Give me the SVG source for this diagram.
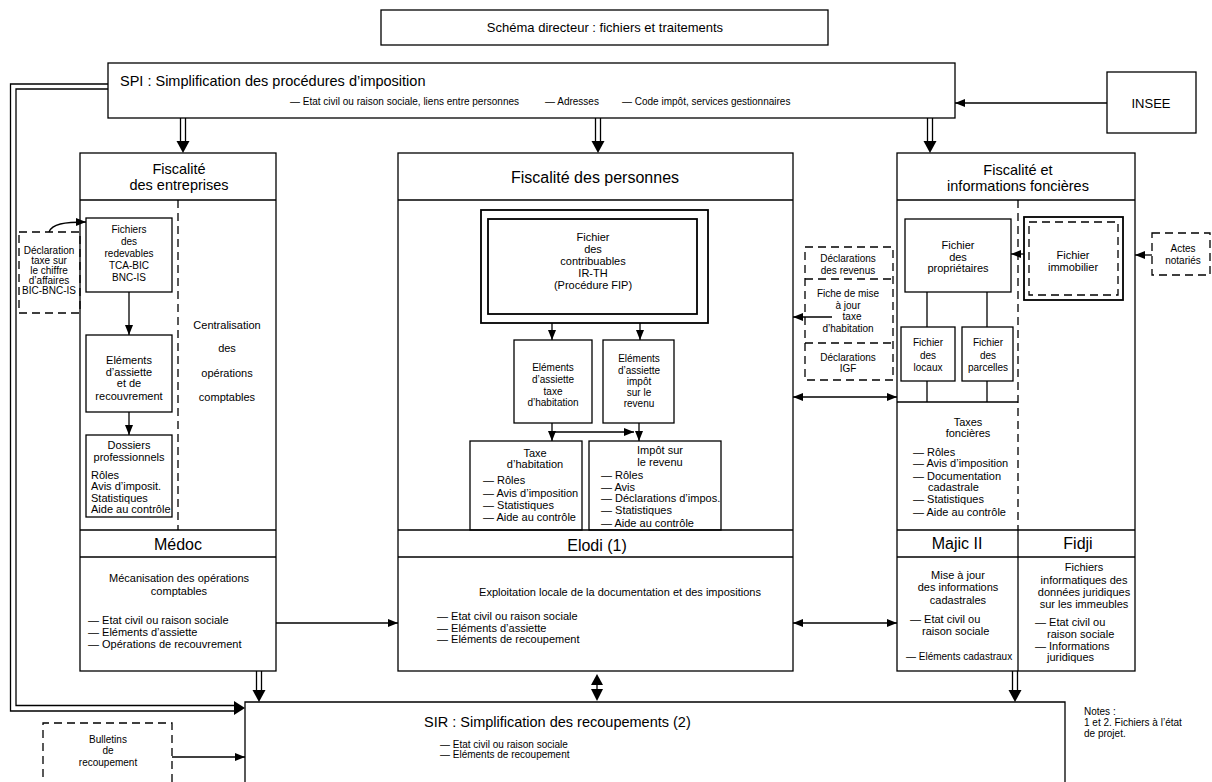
<svg xmlns="http://www.w3.org/2000/svg" width="1212" height="782" viewBox="0 0 1212 782">
<style>
text{font-family:'Liberation Sans',Arial,sans-serif;fill:#000}
.b{fill:none;stroke:#000;stroke-width:1.3}
.bt{fill:none;stroke:#000;stroke-width:1.8}
.d{fill:none;stroke:#000;stroke-width:1.3;stroke-dasharray:8 5}
.c{text-anchor:middle}
.s10{font-size:10px}.s11{font-size:11px}.s13{font-size:13px}.s14{font-size:14.5px}.s16{font-size:16px}
.tri{fill:#000;stroke:none}
</style>
<defs>
<marker id="ah" viewBox="0 0 10 8" refX="10" refY="4" markerWidth="10" markerHeight="8" markerUnits="userSpaceOnUse" orient="auto-start-reverse"><path d="M0,0 L10,4 L0,8 z"/></marker>
</defs>
<rect width="1212" height="782" fill="#fff"/>

<g id="title"><rect class="b" x="381" y="10" width="447" height="35"/><text class="c s13" x="605" y="32">Schéma directeur : fichiers et traitements</text></g>

<g id="spi"><rect class="b" x="108" y="63" width="847" height="55"/>
<text class="s14" x="120" y="86">SPI : Simplification des procédures d’imposition</text>
<text class="s10" x="290" y="105">— Etat civil ou raison sociale, liens entre personnes</text>
<text class="s10" x="545" y="105">— Adresses</text>
<text class="s10" x="622" y="105">— Code impôt, services gestionnaires</text></g>

<g id="insee"><rect class="b" x="1107" y="72" width="89" height="61"/><text class="c s13" x="1151" y="108">INSEE</text></g>

<g id="col-entreprises">
<rect class="b" x="80" y="153" width="196" height="518"/>
<line class="b" x1="80" y1="200" x2="276" y2="200"/>
<line class="b" x1="80" y1="530" x2="276" y2="530"/>
<line class="b" x1="80" y1="557" x2="276" y2="557"/>
<line class="d" x1="178" y1="200" x2="178" y2="530"/>
<text class="c s14" x="179" y="174">Fiscalité</text>
<text class="c s14" x="179" y="190">des entreprises</text>
<text class="c s11" x="227" y="329">Centralisation</text>
<text class="c s11" x="227" y="352">des</text>
<text class="c s11" x="227" y="377">opérations</text>
<text class="c s11" x="227" y="401">comptables</text>
<text class="c s16" x="178" y="550">Médoc</text>
<text class="c s11" x="179" y="582">Mécanisation des opérations</text>
<text class="c s11" x="179" y="595">comptables</text>
<text class="s11" x="88" y="624">— Etat civil ou raison sociale</text>
<text class="s11" x="88" y="636">— Eléments d’assiette</text>
<text class="s11" x="88" y="648">— Opérations de recouvrement</text>
</g>

<g id="fichiers-redevables"><rect class="b" x="86" y="218" width="86" height="74"/>
<text class="c s10" x="129" y="233">Fichiers</text><text class="c s10" x="129" y="245">des</text><text class="c s10" x="129" y="257">redevables</text><text class="c s10" x="129" y="269">TCA-BIC</text><text class="c s10" x="129" y="281">BNC-IS</text></g>

<g id="declaration-ca"><rect class="d" x="19" y="232" width="61" height="81"/>
<text class="c s10" x="49" y="254">Déclaration</text><text class="c s10" x="49" y="264">taxe sur</text><text class="c s10" x="49" y="274">le chiffre</text><text class="c s10" x="49" y="284">d’affaires</text><text class="c s10" x="49" y="294">BIC-BNC-IS</text></g>

<g id="elements-recouvrement"><rect class="b" x="86" y="335" width="86" height="77"/>
<text class="c s11" x="129" y="364">Eléments</text><text class="c s11" x="129" y="376">d’assiette</text><text class="c s11" x="129" y="387">et de</text><text class="c s11" x="129" y="400">recouvrement</text></g>

<g id="dossiers"><rect class="b" x="86" y="435" width="86" height="82"/>
<text class="c s11" x="129" y="449">Dossiers</text><text class="c s11" x="129" y="461">professionnels</text>
<text class="s11" x="91" y="479">Rôles</text><text class="s11" x="91" y="490">Avis d’imposit.</text><text class="s11" x="91" y="502">Statistiques</text><text class="s11" x="91" y="513">Aide au contrôle</text></g>

<g id="col-personnes">
<rect class="b" x="398" y="153" width="395" height="518"/>
<line class="b" x1="398" y1="200" x2="793" y2="200"/>
<line class="b" x1="398" y1="530" x2="793" y2="530"/>
<line class="b" x1="398" y1="557" x2="793" y2="557"/>
<text class="c s16" x="595" y="183">Fiscalité des personnes</text>
<text class="c s16" x="597" y="551">Elodi (1)</text>
<text class="c s11" x="620" y="596">Exploitation locale de la documentation et des impositions</text>
<text class="s11" x="437" y="620">— Etat civil ou raison sociale</text>
<text class="s11" x="437" y="632">— Eléments d’assiette</text>
<text class="s11" x="437" y="643">— Eléments de recoupement</text>
</g>

<g id="fichier-contribuables"><rect class="bt" x="481" y="210" width="227" height="113"/><rect class="bt" x="488" y="219" width="209" height="95"/>
<text class="c s11" x="593" y="241">Fichier</text><text class="c s11" x="593" y="253">des</text><text class="c s11" x="593" y="265">contribuables</text><text class="c s11" x="593" y="277">IR-TH</text><text class="c s11" x="593" y="289">(Procédure FIP)</text></g>

<g id="elements-th"><rect class="b" x="514" y="340" width="78" height="83"/>
<text class="c s10" x="553" y="371">Eléments</text><text class="c s10" x="553" y="383">d’assiette</text><text class="c s10" x="553" y="395">taxe</text><text class="c s10" x="553" y="406">d’habitation</text></g>

<g id="elements-ir"><rect class="b" x="603" y="340" width="71" height="83"/>
<text class="c s10" x="639" y="362">Eléments</text><text class="c s10" x="639" y="374">d’assiette</text><text class="c s10" x="639" y="385">impôt</text><text class="c s10" x="639" y="396">sur le</text><text class="c s10" x="639" y="407">revenu</text></g>

<g id="taxe-habitation"><rect class="b" x="470" y="441" width="112" height="89"/>
<text class="c s11" x="535" y="457">Taxe</text><text class="c s11" x="535" y="468">d’habitation</text>
<text class="s11" x="483" y="484">— Rôles</text><text class="s11" x="483" y="497">— Avis d’imposition</text><text class="s11" x="483" y="509">— Statistiques</text><text class="s11" x="483" y="521">— Aide au contrôle</text></g>

<g id="impot-revenu"><rect class="b" x="589" y="441" width="132" height="89"/>
<text class="c s11" x="660" y="454">Impôt sur</text><text class="c s11" x="660" y="466">le revenu</text>
<text class="s11" x="601" y="479">— Rôles</text><text class="s11" x="601" y="491">— Avis</text><text class="s11" x="601" y="502">— Déclarations d’impos.</text><text class="s11" x="601" y="514">— Statistiques</text><text class="s11" x="601" y="527">— Aide au contrôle</text></g>

<g id="col-foncier">
<rect class="b" x="897" y="153" width="238" height="518"/>
<line class="b" x1="897" y1="200" x2="1135" y2="200"/>
<line class="b" x1="897" y1="530" x2="1135" y2="530"/>
<line class="b" x1="897" y1="557" x2="1135" y2="557"/>
<line class="b" x1="897" y1="402" x2="1018" y2="402"/>
<line class="d" x1="1018" y1="200" x2="1018" y2="530"/>
<line class="b" x1="1018" y1="530" x2="1018" y2="671"/>
<text class="c s14" x="1018" y="175">Fiscalité et</text>
<text class="c s14" x="1018" y="191">informations foncières</text>
<text class="c s11" x="968" y="426">Taxes</text><text class="c s11" x="968" y="437">foncières</text>
<text class="s11" x="913" y="456">— Rôles</text><text class="s11" x="913" y="467">— Avis d’imposition</text><text class="s11" x="913" y="480">— Documentation</text><text class="s11" x="928" y="491">cadastrale</text><text class="s11" x="913" y="503">— Statistiques</text><text class="s11" x="913" y="516">— Aide au contrôle</text>
<text class="c s16" x="957" y="549">Majic II</text>
<text class="c s16" x="1078" y="549">Fidji</text>
<text class="c s11" x="958" y="579">Mise à jour</text><text class="c s11" x="958" y="591">des informations</text><text class="c s11" x="958" y="604">cadastrales</text>
<text class="s11" x="910" y="623">— Etat civil ou</text><text class="s11" x="922" y="635">raison sociale</text><text class="s10" x="906" y="660">— Eléments cadastraux</text>
<text class="c s11" x="1084" y="571">Fichiers</text><text class="c s11" x="1084" y="584">informatiques des</text><text class="c s11" x="1084" y="596">données juridiques</text><text class="c s11" x="1084" y="608">sur les immeubles</text>
<text class="s11" x="1035" y="626">— Etat civil ou</text><text class="s11" x="1047" y="638">raison sociale</text><text class="s11" x="1035" y="650">— Informations</text><text class="s11" x="1047" y="661">juridiques</text>
</g>

<g id="fichier-proprietaires"><rect class="b" x="905" y="219" width="106" height="73"/>
<text class="c s11" x="958" y="249">Fichier</text><text class="c s11" x="958" y="261">des</text><text class="c s11" x="958" y="272">propriétaires</text></g>

<g id="fichier-immobilier"><rect class="bt" x="1024" y="217" width="99" height="83"/><rect class="d" x="1029" y="222" width="89" height="73"/>
<text class="c s11" x="1073" y="259">Fichier</text><text class="c s11" x="1073" y="271">immobilier</text></g>

<g id="actes"><rect class="d" x="1152" y="233" width="58" height="42"/>
<text class="c s10" x="1183" y="252">Actes</text><text class="c s10" x="1183" y="264">notariés</text></g>

<g id="fichier-locaux"><rect class="b" x="901" y="327" width="54" height="54"/>
<text class="c s10" x="928" y="346">Fichier</text><text class="c s10" x="928" y="359">des</text><text class="c s10" x="928" y="371">locaux</text></g>

<g id="fichier-parcelles"><rect class="b" x="962" y="327" width="51" height="54"/>
<text class="c s10" x="988" y="346">Fichier</text><text class="c s10" x="988" y="359">des</text><text class="c s10" x="988" y="371">parcelles</text></g>

<g id="declarations-revenus">
<rect class="d" x="805" y="247" width="88" height="133"/>
<line class="d" x1="805" y1="279" x2="893" y2="279"/>
<line class="d" x1="805" y1="343" x2="893" y2="343"/>
<text class="c s10" x="848" y="262">Déclarations</text><text class="c s10" x="848" y="274">des revenus</text>
<text class="c s10" x="848" y="297">Fiche de mise</text><text class="c s10" x="848" y="309">à jour</text><text class="c s10" x="852" y="320">taxe</text><text class="c s10" x="848" y="332">d’habitation</text>
<text class="c s10" x="848" y="361">Déclarations</text><text class="c s10" x="848" y="372">IGF</text>
</g>

<g id="sir"><path class="b" d="M245,790 V702 H1065 V790"/>
<text class="s14" x="424" y="727">SIR : Simplification des recoupements (2)</text>
<text class="s10" x="440" y="748">— Etat civil ou raison sociale</text>
<text class="s10" x="440" y="758">— Eléments de recoupement</text></g>

<g id="bulletins"><path class="d" d="M43,790 V723 H172 V790"/>
<text class="c s10" x="108" y="743">Bulletins</text><text class="c s10" x="108" y="754">de</text><text class="c s10" x="108" y="766">recoupement</text></g>

<g id="notes"><text class="s10" x="1084" y="715">Notes :</text><text class="s10" x="1084" y="726">1 et 2. Fichiers à l’état</text><text class="s10" x="1084" y="737">de projet.</text></g>

<g id="connectors">
<line class="b" x1="1107" y1="103" x2="955" y2="103" marker-end="url(#ah)"/>
<g><line class="b" x1="180.5" y1="118" x2="180.5" y2="142"/><line class="b" x1="185.5" y1="118" x2="185.5" y2="142"/><path class="tri" d="M176.5,141 L189.5,141 L183,153 z"/></g>
<g><line class="b" x1="595.5" y1="118" x2="595.5" y2="142"/><line class="b" x1="600.5" y1="118" x2="600.5" y2="142"/><path class="tri" d="M591.5,141 L604.5,141 L598,153 z"/></g>
<g><line class="b" x1="927.5" y1="118" x2="927.5" y2="142"/><line class="b" x1="932.5" y1="118" x2="932.5" y2="142"/><path class="tri" d="M923.5,141 L936.5,141 L930,153 z"/></g>
<path class="b" d="M108,84 H10.5 V711 H236"/>
<path class="b" d="M108,89 H16 V705.5 H236"/>
<path class="tri" d="M234,701 L245,708 L234,715 z"/>
<path class="b" d="M49,232 C52,224 64,222 86,222" marker-end="url(#ah)"/>
<line class="b" x1="129" y1="292" x2="129" y2="335" marker-end="url(#ah)"/>
<line class="b" x1="129" y1="412" x2="129" y2="435" marker-end="url(#ah)"/>
<line class="b" x1="276" y1="623" x2="398" y2="623" marker-end="url(#ah)"/>
<line class="b" x1="552" y1="323" x2="552" y2="340" marker-end="url(#ah)"/>
<line class="b" x1="640" y1="323" x2="640" y2="340" marker-end="url(#ah)"/>
<line class="b" x1="552" y1="423" x2="552" y2="441" marker-end="url(#ah)"/>
<line class="b" x1="552" y1="432" x2="634" y2="432" marker-end="url(#ah)"/>
<line class="b" x1="639" y1="423" x2="639" y2="441" marker-end="url(#ah)"/>
<line class="b" x1="793" y1="397" x2="897" y2="397" marker-start="url(#ah)" marker-end="url(#ah)"/>
<line class="b" x1="793" y1="623" x2="897" y2="623" marker-start="url(#ah)" marker-end="url(#ah)"/>
<line class="b" x1="832" y1="317" x2="793" y2="317" marker-end="url(#ah)"/>
<line class="b" x1="1024" y1="254" x2="1011" y2="254" marker-end="url(#ah)"/>
<line class="b" x1="1152" y1="255" x2="1135" y2="255" marker-end="url(#ah)"/>
<line class="b" x1="927" y1="292" x2="927" y2="327"/>
<line class="b" x1="987" y1="292" x2="987" y2="327"/>
<line class="b" x1="927" y1="381" x2="927" y2="402"/>
<line class="b" x1="987" y1="381" x2="987" y2="402"/>
<line class="b" x1="172" y1="757" x2="245" y2="757" marker-end="url(#ah)"/>
<g><line class="b" x1="256.5" y1="671" x2="256.5" y2="691"/><line class="b" x1="261.5" y1="671" x2="261.5" y2="691"/><path class="tri" d="M252.5,690 L265.5,690 L259,702 z"/></g>
<g><line class="b" x1="1012.5" y1="671" x2="1012.5" y2="691"/><line class="b" x1="1017.5" y1="671" x2="1017.5" y2="691"/><path class="tri" d="M1008.5,690 L1021.5,690 L1015,702 z"/></g>
<g><line class="b" x1="597" y1="684" x2="597" y2="690"/><path class="tri" d="M591,685 L603,685 L597,674 z"/><path class="tri" d="M591,689 L603,689 L597,701 z"/></g>
</g>
</svg>
